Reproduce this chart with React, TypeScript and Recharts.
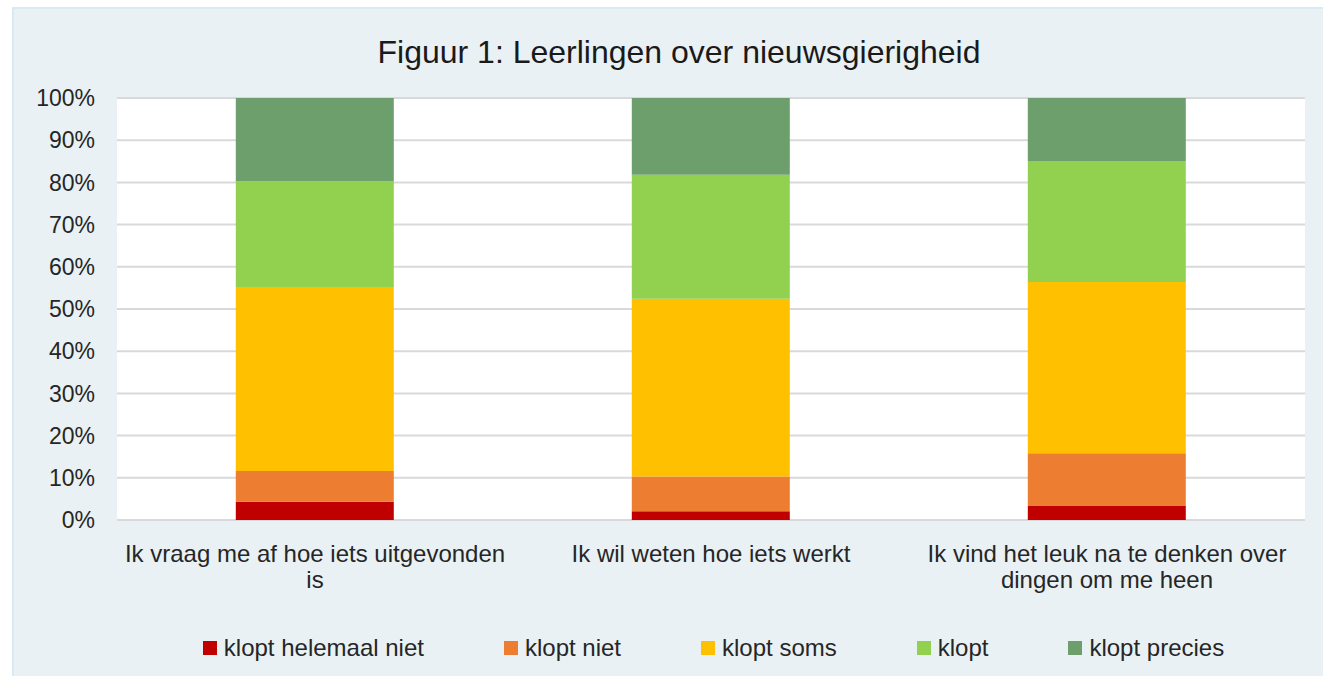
import React from "react";
import {
	BarChart,
	Bar,
	XAxis,
	YAxis,
	CartesianGrid,
	Legend,
} from "recharts";

// categories (line breaks as in the original figure)
const categories = [
	"Ik vraag me af hoe iets uitgevonden\nis",
	"Ik wil weten hoe iets werkt",
	"Ik vind het leuk na te denken over\ndingen om me heen",
];

// percentages per answer, one value per category
const helemaalNiet = [4.3, 2.1, 3.3];
const kloptNiet = [7.3, 8.2, 12.5];
const soms = [43.6, 42.1, 40.6];
const klopt = [25.1, 29.4, 28.7];
const precies = [19.7, 18.2, 14.9];

const yTicks = [0, 10, 20, 30, 40, 50, 60, 70, 80, 90, 100];

const series = [
	{ key: "helemaalNiet", name: "klopt helemaal niet", color: "#C00000" },
	{ key: "kloptNiet", name: "klopt niet", color: "#ED7D31" },
	{ key: "soms", name: "klopt soms", color: "#FFC000" },
	{ key: "klopt", name: "klopt", color: "#92D050" },
	{ key: "precies", name: "klopt precies", color: "#6C9F6C" },
];

const data = categories.map((name, i) => ({
	name,
	helemaalNiet: helemaalNiet[i],
	kloptNiet: kloptNiet[i],
	soms: soms[i],
	klopt: klopt[i],
	precies: precies[i],
}));

const font = '"Liberation Sans", Arial, sans-serif';

const CategoryTick = (props: any) => {
	const { x, y, payload } = props;
	const lines = String(payload.value).split("\n");
	return (
		<text x={x} y={y} textAnchor="middle" fill="#262626" fontSize={24} fontFamily={font}>
			{lines.map((l: string, i: number) => (
				<tspan key={i} x={x} dy={i === 0 ? 42 : 26}>
					{l}
				</tspan>
			))}
		</text>
	);
};

const LegendContent = () => (
	<div
		style={{
			display: "flex",
			justifyContent: "center",
			alignItems: "center",
			height: 40,
			paddingLeft: 90,
			fontFamily: font,
			fontSize: 24,
			color: "#262626",
			gap: 80,
		}}
	>
		{series.map((s) => (
			<div key={s.key} style={{ display: "flex", alignItems: "center" }}>
				<span style={{ width: 14, height: 14, background: s.color, marginRight: 7, display: "inline-block" }} />
				<span>{s.name}</span>
			</div>
		))}
	</div>
);

export default function App() {
	return (
		<div
			style={{
				position: "absolute",
				left: 12,
				top: 7,
				width: 1311,
				height: 669,
				boxSizing: "border-box",
				background: "#E9F1F4",
				borderTop: "2px solid #D8EBF5",
				borderLeft: "2px solid #D8EBF5",
			}}
		>
			<div
				style={{
					position: "absolute",
					left: 0,
					width: 1330,
					top: 25,
					textAlign: "center",
					fontFamily: font,
					fontSize: 32,
					color: "#1a1a1a",
				}}
			>
				Figuur 1: Leerlingen over nieuwsgierigheid
			</div>
			<BarChart
				width={1309}
				height={667}
				data={data}
				margin={{ top: 89, right: 18, left: 0, bottom: 8 }}
				barCategoryGap="30%"
			>
				<CartesianGrid vertical={false} fill="#FFFFFF" stroke="#D9D9D9" strokeWidth={2} />
				<XAxis
					dataKey="name"
					axisLine={false}
					tickLine={false}
					tickSize={0}
					tickMargin={0}
					height={108}
					interval={0}
					tick={<CategoryTick />}
				/>
				<YAxis
					width={103}
					domain={[0, 100]}
					ticks={yTicks}
					axisLine={false}
					tickLine={false}
					tickSize={0}
					tickMargin={22}
					tickFormatter={(v: number) => `${v}%`}
					tick={{ fill: "#262626", fontSize: 23, fontFamily: font }}
				/>
				<Legend verticalAlign="bottom" wrapperStyle={{ left: 0, width: 1309 }} content={<LegendContent />} />
				{series.map((s) => (
					<Bar key={s.key} dataKey={s.key} name={s.name} stackId="a" fill={s.color} isAnimationActive={false} />
				))}
			</BarChart>
		</div>
	);
}
